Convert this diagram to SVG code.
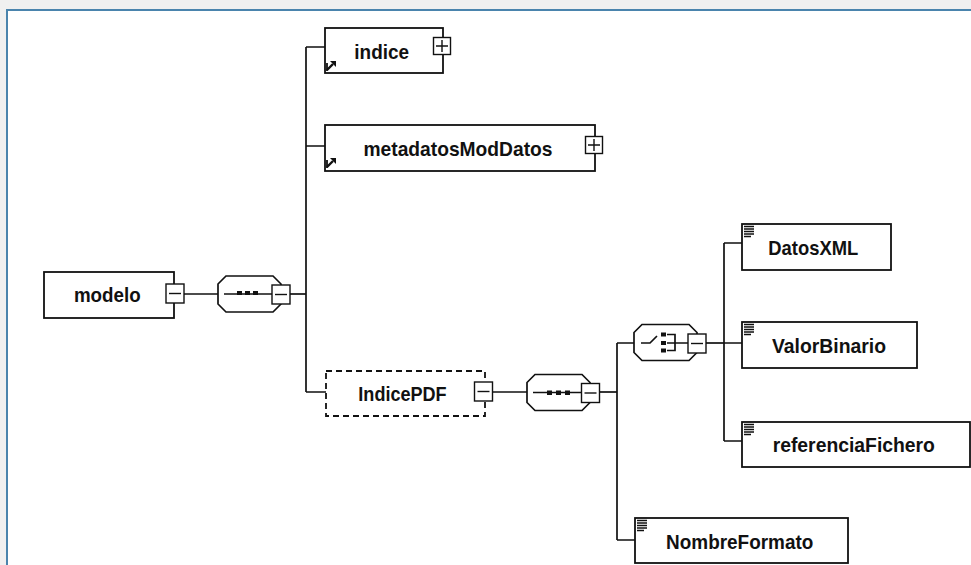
<svg xmlns="http://www.w3.org/2000/svg" width="971" height="565" viewBox="0 0 971 565">
<style>
.bg{fill:#f0f0f0}
.panel{fill:#fff;stroke:#4a84ad;stroke-width:2}
.box{fill:#fff;stroke:#111;stroke-width:1.8}
.dash{stroke-dasharray:6,4}
.lbl{font-family:"Liberation Sans",Arial,sans-serif;font-weight:bold;font-size:21px;fill:#111;text-anchor:middle}
.conn{fill:none;stroke:#111;stroke-width:1.7}
.pm{fill:#fff;stroke:#111;stroke-width:1.4}
.pl{stroke:#111;stroke-width:1.4;fill:none}
.oct{fill:#fff;stroke:#111;stroke-width:1.7}
.ic{stroke:#111;stroke-width:1.3;fill:none}
.dot{fill:#111}
</style>
<defs>
<g id="minus"><rect class="pm" x="-9" y="-9.5" width="18" height="19"/><path class="pl" d="M-6,0H6"/></g>
<g id="plus"><rect class="pm" x="-8.5" y="-8.5" width="17" height="17"/><path class="pl" d="M-6,0H6M0,-6V6"/></g>
<g id="icon"><path class="ic" d="M0,0.5H10M0,3H10M0,5.5H10M0,8H10M0,10.5H7"/></g>
<g id="ref"><path d="M1,3V11" stroke="#111" stroke-width="1.8"/><path d="M1,10L7,4" stroke="#111" stroke-width="2.4"/><polygon points="4,1 10,1 10,7" fill="#111"/></g>
<path id="octa" d="M0,8L8,0H55L63,8V28L55,36H8L0,28Z"/>
</defs>
<rect class="bg" x="0" y="0" width="971" height="565"/>
<rect class="panel" x="7" y="10" width="980" height="570"/>

<g id="connectors">
<path class="conn" d="M184,294H218"/>
<path class="conn" d="M290,294H306"/>
<path class="conn" d="M306,47V392M306,47H325M306,146H325M306,392H326"/>
<path class="conn" d="M493,392H527"/>
<path class="conn" d="M599,392H617"/>
<path class="conn" d="M617,343V540M617,343H634M617,540H635"/>
<path class="conn" d="M706,343H724"/>
<path class="conn" d="M724,243V441M724,243H742M724,343H742M724,441H742"/>
</g>

<g id="node-modelo">
<rect class="box" x="44" y="272" width="130" height="46"/>
<text class="lbl" x="107.3" y="302.3" textLength="66.7" lengthAdjust="spacingAndGlyphs">modelo</text>
<use href="#minus" x="175" y="293.5"/>
</g>

<g id="node-seq1">
<use href="#octa" class="oct" x="218" y="276"/>
<path class="conn" d="M224,294H272"/>
<rect class="dot" x="237" y="291" width="5" height="4"/>
<rect class="dot" x="245" y="291" width="5" height="4"/>
<rect class="dot" x="253" y="291" width="5" height="4"/>
<use href="#minus" x="281" y="294.5"/>
</g>

<g id="node-indice">
<rect class="box" x="325" y="28" width="118" height="45"/>
<text class="lbl" x="381.7" y="58.5" textLength="54.7" lengthAdjust="spacingAndGlyphs">indice</text>
<use href="#plus" x="442" y="46"/>
<use href="#ref" x="326" y="60"/>
</g>

<g id="node-metadatosModDatos">
<rect class="box" x="325" y="125" width="270" height="46"/>
<text class="lbl" x="458" y="156" textLength="189" lengthAdjust="spacingAndGlyphs">metadatosModDatos</text>
<use href="#plus" x="594" y="145"/>
<use href="#ref" x="326" y="157"/>
</g>

<g id="node-IndicePDF">
<rect class="box dash" x="326" y="371" width="159" height="45"/>
<text class="lbl" x="402.5" y="400.7" textLength="88.3" lengthAdjust="spacingAndGlyphs">IndicePDF</text>
<use href="#minus" x="483.5" y="391.5"/>
</g>

<g id="node-seq2">
<use href="#octa" class="oct" x="527" y="374.5"/>
<path class="conn" d="M533,392.5H581"/>
<rect class="dot" x="547" y="390.5" width="5" height="4.5"/>
<rect class="dot" x="556" y="390.5" width="5" height="4.5"/>
<rect class="dot" x="565" y="390.5" width="5" height="4.5"/>
<use href="#minus" x="590.5" y="393"/>
</g>

<g id="node-choice">
<use href="#octa" class="oct" x="634" y="324.5"/>
<path class="conn" d="M641,343H650L657,336"/>
<rect class="dot" x="661" y="332.5" width="5" height="4"/>
<rect class="dot" x="661" y="341" width="5" height="4"/>
<rect class="dot" x="661" y="348.5" width="5" height="4"/>
<path class="conn" d="M667,334.5H675V350.5H667M667,343H688"/>
<use href="#minus" x="697" y="343.5"/>
</g>

<g id="node-DatosXML">
<rect class="box" x="742" y="224" width="149" height="46"/>
<use href="#icon" x="744" y="226"/>
<text class="lbl" x="813.3" y="254.5" textLength="90" lengthAdjust="spacingAndGlyphs">DatosXML</text>
</g>

<g id="node-ValorBinario">
<rect class="box" x="742" y="322" width="175" height="46"/>
<use href="#icon" x="744" y="324"/>
<text class="lbl" x="829" y="352.5" textLength="114" lengthAdjust="spacingAndGlyphs">ValorBinario</text>
</g>

<g id="node-referenciaFichero">
<rect class="box" x="742" y="422" width="228" height="45"/>
<use href="#icon" x="744" y="424"/>
<text class="lbl" x="853.8" y="451.5" textLength="162.3" lengthAdjust="spacingAndGlyphs">referenciaFichero</text>
</g>

<g id="node-NombreFormato">
<rect class="box" x="635" y="518" width="213" height="45"/>
<use href="#icon" x="637" y="520"/>
<text class="lbl" x="739.7" y="548.5" textLength="147.3" lengthAdjust="spacingAndGlyphs">NombreFormato</text>
</g>
</svg>
